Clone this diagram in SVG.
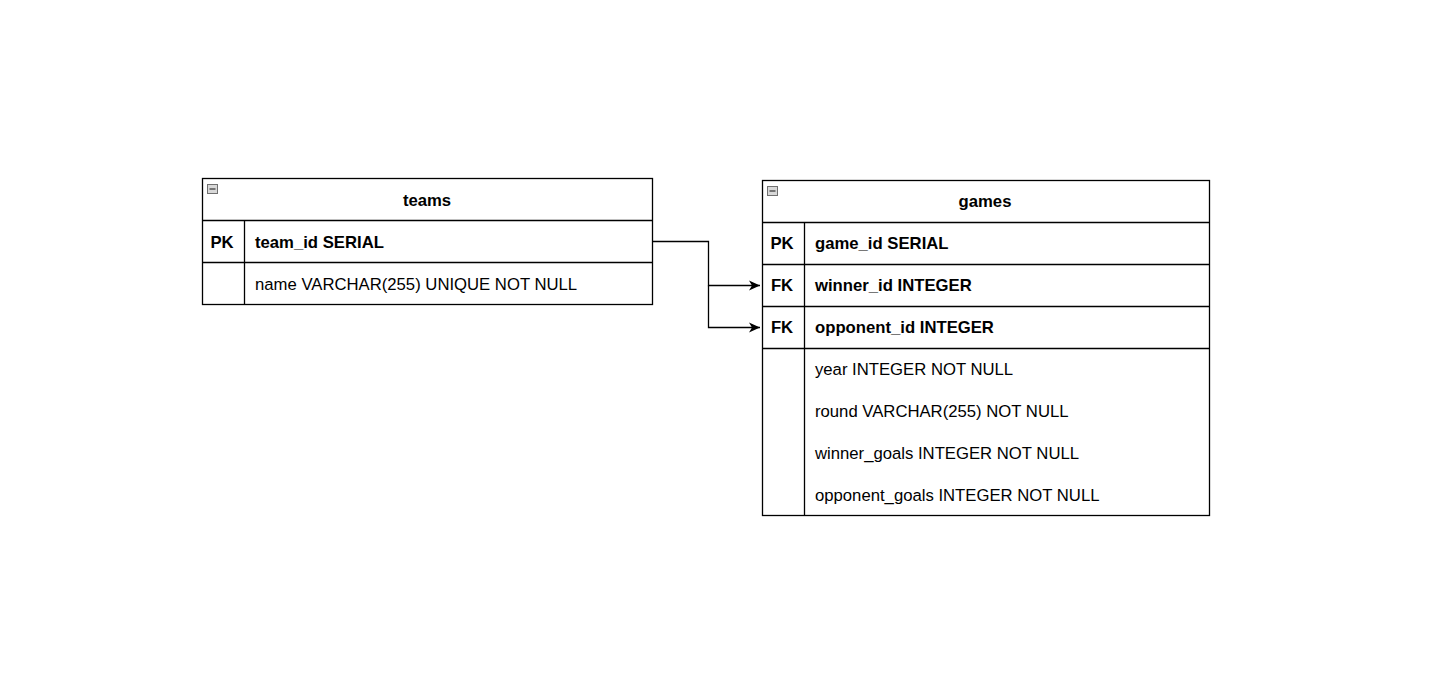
<svg xmlns="http://www.w3.org/2000/svg" width="1440" height="700" viewBox="0 0 1440 700">
<style>
.box{fill:#ffffff;stroke:#000000;stroke-width:1.3}
.ln{stroke:#000000;stroke-width:1.3;fill:none}
.t{font-family:"Liberation Sans",Arial,sans-serif;font-size:16.7px;fill:#000000;dominant-baseline:central}
.b{font-weight:bold}
.ic{fill:#d8d8d8;stroke:#707070;stroke-width:1}
.conn{stroke:#000000;stroke-width:1.3;fill:none}
</style>
<defs>
<marker id="arr" markerWidth="14" markerHeight="14" refX="11" refY="7" orient="auto" markerUnits="userSpaceOnUse">
<path d="M0,2 L11,7 L0,12 L3,7 Z" fill="#000000"/>
</marker>
</defs>
<rect width="1440" height="700" fill="#ffffff"/>
<g id="teams">
<rect class="box" x="202.5" y="178.5" width="450" height="126"/>
<line class="ln" x1="202.5" y1="220.5" x2="652.5" y2="220.5"/>
<line class="ln" x1="202.5" y1="262.5" x2="652.5" y2="262.5"/>
<line class="ln" x1="244.5" y1="220.5" x2="244.5" y2="304.5"/>
<rect class="ic" x="207.5" y="184.5" width="10" height="9"/>
<line x1="209.5" y1="189" x2="215.5" y2="189" stroke="#333" stroke-width="1.2"/>
<text class="t b" x="427" y="200" text-anchor="middle">teams</text>
<text class="t b" x="222" y="242" text-anchor="middle">PK</text>
<text class="t b" x="255" y="242">team_id SERIAL</text>
<text class="t" x="255" y="284">name VARCHAR(255) UNIQUE NOT NULL</text>
</g>
<g id="games">
<rect class="box" x="762.5" y="180.5" width="447" height="335"/>
<line class="ln" x1="762.5" y1="222.5" x2="1209.5" y2="222.5"/>
<line class="ln" x1="762.5" y1="264.5" x2="1209.5" y2="264.5"/>
<line class="ln" x1="762.5" y1="306.5" x2="1209.5" y2="306.5"/>
<line class="ln" x1="762.5" y1="348.5" x2="1209.5" y2="348.5"/>
<line class="ln" x1="804.5" y1="222.5" x2="804.5" y2="515.5"/>
<rect class="ic" x="767.5" y="186.5" width="10" height="9"/>
<line x1="769.5" y1="191" x2="775.5" y2="191" stroke="#333" stroke-width="1.2"/>
<text class="t b" x="985" y="201" text-anchor="middle">games</text>
<text class="t b" x="782" y="243" text-anchor="middle">PK</text>
<text class="t b" x="815" y="243">game_id SERIAL</text>
<text class="t b" x="782" y="285" text-anchor="middle">FK</text>
<text class="t b" x="815" y="285">winner_id INTEGER</text>
<text class="t b" x="782" y="327" text-anchor="middle">FK</text>
<text class="t b" x="815" y="327">opponent_id INTEGER</text>
<text class="t" x="815" y="369">year INTEGER NOT NULL</text>
<text class="t" x="815" y="411">round VARCHAR(255) NOT NULL</text>
<text class="t" x="815" y="453">winner_goals INTEGER NOT NULL</text>
<text class="t" x="815" y="495">opponent_goals INTEGER NOT NULL</text>
</g>
<g id="connectors">
<path class="conn" d="M652.5,241.5 H708.5 V285.5 H760" marker-end="url(#arr)"/>
<path class="conn" d="M708.5,285.5 V327.5 H760" marker-end="url(#arr)"/>
</g>
</svg>
